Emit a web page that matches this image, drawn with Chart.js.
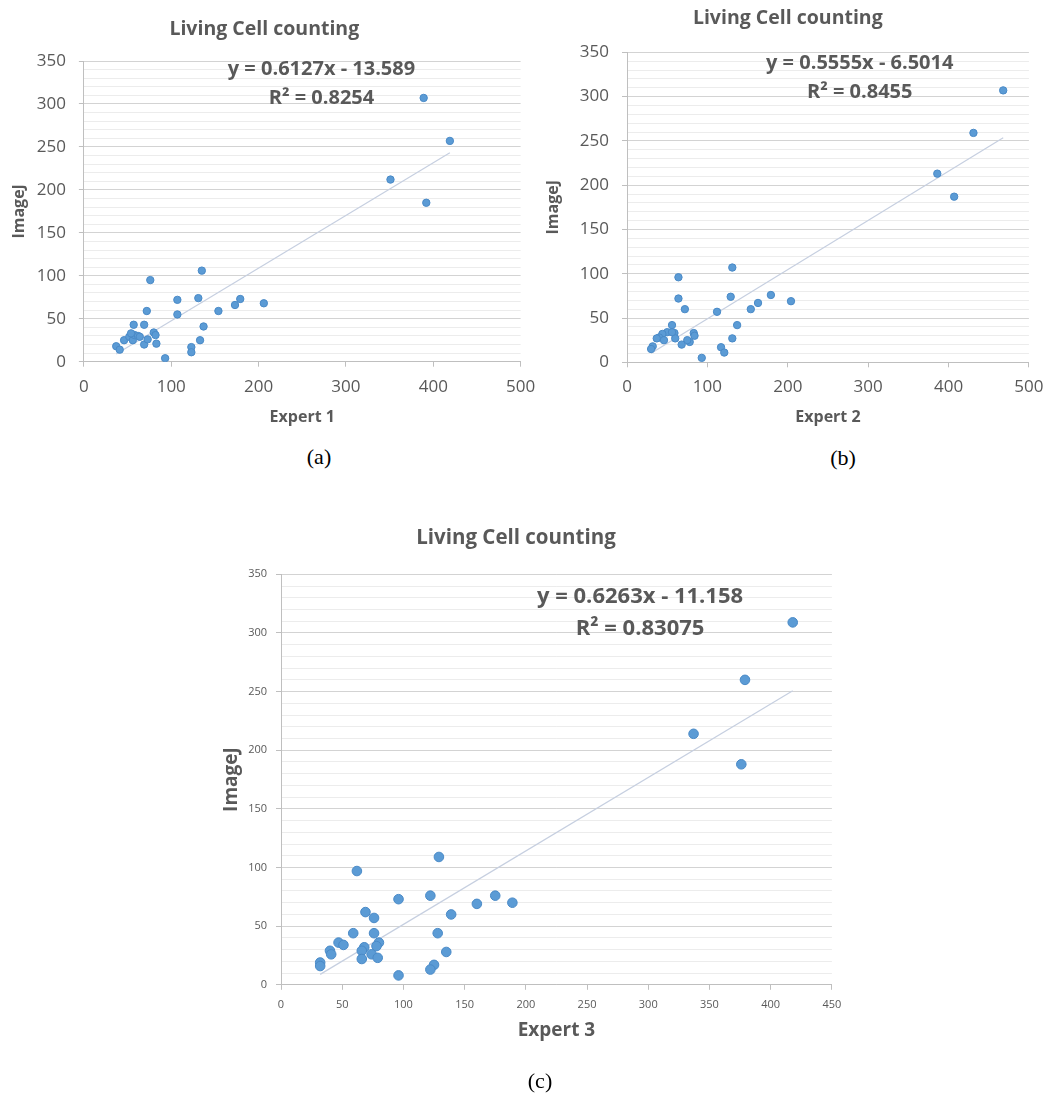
<!DOCTYPE html>
<html>
<head>
<meta charset="utf-8">
<script src="https://cdn.jsdelivr.net/npm/chart.js@4.4.1/dist/chart.umd.min.js"></script>
<style>
  body { margin: 0; background: #fff; width: 1053px; height: 1095px; position: relative; overflow: hidden; }
  canvas { position: absolute; }
  .caption { position: absolute; font-family: "Liberation Serif", "DejaVu Serif", serif; font-size: 22px; color: #000; transform: translate(-50%, -50%); }
</style>
</head>
<body>
<canvas id="chartA" width="545" height="440" style="left:0px;top:0px"></canvas>
<canvas id="chartB" width="513" height="440" style="left:540px;top:0px"></canvas>
<canvas id="chartC" width="653" height="595" style="left:200px;top:500px"></canvas>
<div class="caption" style="left:319px;top:457px">(a)</div>
<div class="caption" style="left:843px;top:458px">(b)</div>
<div class="caption" style="left:540px;top:1081px">(c)</div>
<script>
// Expert 1 vs ImageJ counts (chart a)
const expert1X = [389, 419, 351, 392, 135, 76, 107, 131, 179, 173, 206, 154, 72, 107, 137, 57, 69, 80, 82, 133, 123, 123, 93, 83, 69, 73, 37, 41, 46, 52, 56, 58, 62, 54, 64];
const expert1Y = [307, 257, 212, 185, 106, 95, 72, 74, 73, 66, 68, 59, 59, 55, 41, 43, 43, 34, 31, 25, 17, 11, 4, 21, 20, 26, 18, 14, 25, 29, 25, 31, 30, 33, 29];

// Expert 2 vs ImageJ counts (chart b)
const expert2X = [468, 431, 386, 407, 131, 64, 64, 129, 179, 204, 163, 154, 72, 112, 137, 56, 131, 117, 121, 93, 83, 84, 78, 75, 68, 59, 60, 50, 44, 40, 46, 37, 32, 30, 56];
const expert2Y = [307, 259, 213, 187, 107, 96, 72, 74, 76, 69, 67, 60, 60, 57, 42, 42, 27, 17, 11, 5, 33, 30, 23, 25, 20, 33, 27, 34, 32, 28, 25, 27, 18, 15, 34];

// Expert 3 vs ImageJ counts (chart c)
const expert3X = [418, 379, 337, 376, 129, 62, 96, 122, 175, 189, 160, 139, 69, 76, 59, 76, 128, 47, 51, 80, 78, 68, 66, 74, 79, 66, 135, 125, 122, 96, 40, 41, 32, 32];
const expert3Y = [309, 260, 214, 188, 109, 97, 73, 76, 76, 70, 69, 60, 62, 57, 44, 44, 44, 36, 34, 36, 33, 32, 29, 26, 23, 22, 28, 17, 13, 8, 29, 26, 19, 16];

// trendline equations shown on each chart
const slopes = [0.6127, 0.5555, 0.6263];
const intercepts = [-13.589, -6.5014, -11.158];
const equationLabels = ["y = 0.6127x - 13.589", "y = 0.5555x - 6.5014", "y = 0.6263x - 11.158"];
const rSquaredLabels = ["R\u00b2 = 0.8254", "R\u00b2 = 0.8455", "R\u00b2 = 0.83075"];

// tick labels
const yTickLabels = [0, 50, 100, 150, 200, 250, 300, 350];
const xTickLabelsAB = [0, 100, 200, 300, 400, 500];
const xTickLabelsC = [0, 50, 100, 150, 200, 250, 300, 350, 400, 450];

const FONT = "'Open Sans', 'Liberation Sans', sans-serif";
const GREY = "#595959";
const DOT = "#5b9bd5";

// build {x, y} points from the two arrays
function toPoints(xs, ys) {
  return xs.map((x, i) => ({ x: x, y: ys[i] }));
}

// trendline runs from the smallest to the largest expert value
function trendPoints(xs, i) {
  const lo = Math.min(...xs);
  const hi = Math.max(...xs);
  return [
    { x: lo, y: slopes[i] * lo + intercepts[i] },
    { x: hi, y: slopes[i] * hi + intercepts[i] },
  ];
}

// draws the equation and R² text inside the plot
const equationPlugin = {
  id: "equation",
  afterDatasetsDraw(chart, args, opts) {
    const ctx = chart.ctx;
    const xs = chart.scales.x;
    const ys = chart.scales.y;
    ctx.save();
    ctx.font = "bold " + opts.size + "px " + FONT;
    ctx.fillStyle = GREY;
    ctx.textAlign = "center";
    ctx.textBaseline = "middle";
    ctx.fillText(opts.eq, xs.getPixelForValue(opts.at[0]), ys.getPixelForValue(opts.at[1]));
    ctx.fillText(opts.r2, xs.getPixelForValue(opts.at[0]), ys.getPixelForValue(opts.at[2]));
    ctx.restore();
  },
};

function makeChart(id, s) {
  new Chart(document.getElementById(id), {
    type: "scatter",
    data: {
      datasets: [
        {
          data: toPoints(s.xs, s.ys),
          backgroundColor: DOT,
          borderColor: "#4a8ac7",
          borderWidth: 1,
          pointRadius: s.dot,
        },
        {
          type: "line",
          data: trendPoints(s.xs, s.idx),
          borderColor: "#c6cfe0",
          borderWidth: 1.2,
          pointRadius: 0,
          fill: false,
        },
      ],
    },
    plugins: [equationPlugin],
    options: {
      responsive: false,
      animation: false,
      layout: { padding: { left: 0, right: s.padRight, top: 0, bottom: 0 } },
      plugins: {
        legend: { display: false },
        tooltip: { enabled: false },
        title: {
          display: true,
          text: "Living Cell counting",
          color: GREY,
          font: { family: FONT, size: s.titleSize, weight: "bold", lineHeight: 1.2 },
          padding: { top: s.titlePadTop, bottom: s.titlePadBottom },
        },
        equation: { eq: equationLabels[s.idx], r2: rSquaredLabels[s.idx], size: s.eqSize, at: s.eqAt },
      },
      scales: {
        x: {
          type: "linear",
          min: 0,
          max: s.xMax,
          afterFit: (scale) => { scale.height = s.xHeight; },
          afterBuildTicks: (scale) => { scale.ticks = s.xTicks.map((v) => ({ value: v })); },
          border: { color: "#bfbfbf" },
          grid: { drawOnChartArea: false, tickLength: 5, color: "#bfbfbf" },
          ticks: {
            color: GREY,
            padding: s.xTickPad,
            maxRotation: 0,
            autoSkip: false,
            font: { family: FONT, size: s.tickSize, lineHeight: 1.2 },
          },
          title: {
            display: true,
            text: s.xTitle,
            color: GREY,
            font: { family: FONT, size: s.axisTitleSize, weight: "bold", lineHeight: 1.2 },
            padding: { top: 0, bottom: s.xTitlePad },
          },
        },
        y: {
          min: 0,
          max: 350,
          afterFit: (scale) => { scale.width = s.yWidth; },
          border: { color: "#bfbfbf" },
          grid: {
            tickLength: 5,
            color: (c) => (c.tick && c.tick.value % 50 === 0 ? "#d3d3d3" : "#ececec"),
            tickColor: (c) => (c.tick && c.tick.value % 50 === 0 ? "#bfbfbf" : "rgba(0,0,0,0)"),
          },
          ticks: {
            stepSize: 10,
            autoSkip: false,
            color: GREY,
            padding: s.yTickPad,
            font: { family: FONT, size: s.tickSize, lineHeight: 1.2 },
            callback: (v) => (yTickLabels.includes(v) ? v : ""),
          },
          title: {
            display: true,
            text: "ImageJ",
            color: GREY,
            font: { family: FONT, size: s.axisTitleSize, weight: "bold", lineHeight: 1.2 },
            padding: { top: s.yTitlePad, bottom: 0 },
          },
        },
      },
    },
  });
}

makeChart("chartA", {
  idx: 0, xs: expert1X, ys: expert1Y, xMax: 500, xTicks: xTickLabelsAB, xTitle: "Expert 1",
  padRight: 16.4, yWidth: 83.9, xHeight: 78.3,
  titleSize: 19.5, titlePadTop: 17.3, titlePadBottom: 20.3,
  tickSize: 17, xTickPad: 9.8, yTickPad: 13,
  axisTitleSize: 16, xTitlePad: 13.4, yTitlePad: 9.4,
  eqSize: 20, eqAt: [272, 340.7, 307], dot: 3.7,
});

makeChart("chartB", {
  idx: 1, xs: expert2X, ys: expert2Y, xMax: 500, xTicks: xTickLabelsAB, xTitle: "Expert 2",
  padRight: 17.4, yWidth: 87, xHeight: 77.7,
  titleSize: 19.5, titlePadTop: 6.3, titlePadBottom: 22.6,
  tickSize: 17, xTickPad: 9.5, yTickPad: 13,
  axisTitleSize: 16, xTitlePad: 13.4, yTitlePad: 3.9,
  eqSize: 20, eqAt: [289.5, 337.8, 305], dot: 3.7,
});

makeChart("chartC", {
  idx: 2, xs: expert3X, ys: expert3Y, xMax: 450, xTicks: xTickLabelsC, xTitle: "Expert 3",
  padRight: 21.1, yWidth: 81, xHeight: 110.2,
  titleSize: 20.5, titlePadTop: 25.7, titlePadBottom: 24,
  tickSize: 11, xTickPad: 8.2, yTickPad: 9,
  axisTitleSize: 19, xTitlePad: 52.6, yTitlePad: 20.1,
  eqSize: 22, eqAt: [293.3, 330.6, 303.3], dot: 4.8,
});
</script>
</body>
</html>
